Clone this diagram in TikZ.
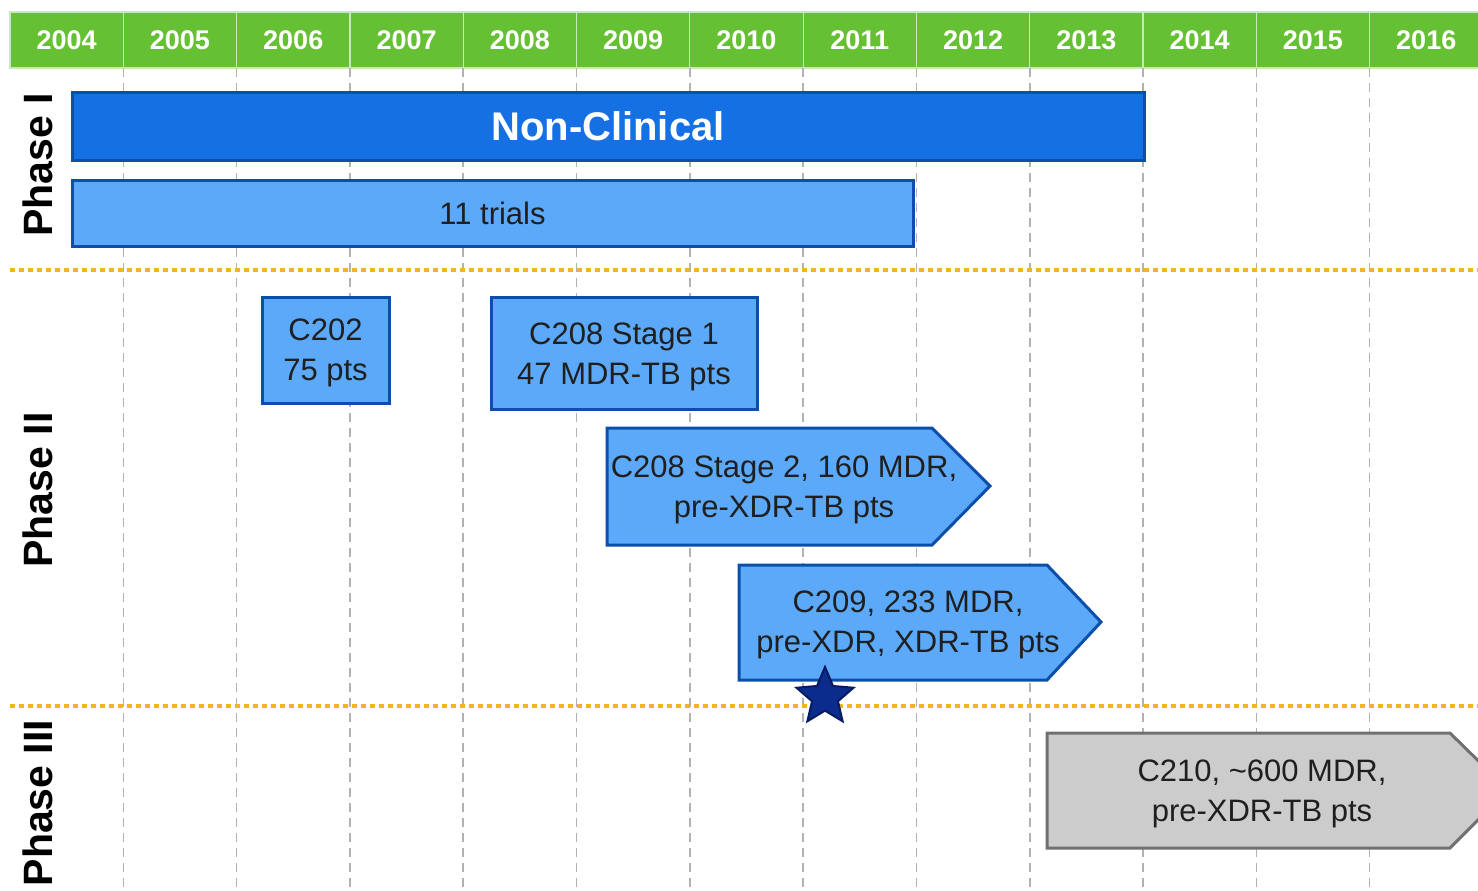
\documentclass[tikz,border=0pt]{standalone}
\usepackage{fontspec}
\setmainfont{Liberation Sans}
\usetikzlibrary{shapes.geometric}
\definecolor{hdrgreen}{HTML}{66C033}
\definecolor{darkbar}{HTML}{1570E4}
\definecolor{lightbar}{HTML}{5BA9F8}
\definecolor{barline}{HTML}{0C4FAA}
\definecolor{futuregray}{HTML}{CCCCCC}
\definecolor{futureline}{HTML}{707070}
\definecolor{phaseline}{HTML}{F4B326}
\definecolor{starblue}{HTML}{0B2C8C}
\definecolor{stardark}{HTML}{061B60}

\begin{document}
\begin{tikzpicture}[x=0.5pt,y=-0.5pt,
  hdr/.style={fill=hdrgreen,draw=white!65!hdrgreen,line width=0.6pt,inner sep=0pt,
    minimum width=56.65pt,minimum height=28pt,text=white,
    font=\fontsize{13.5}{16}\selectfont\bfseries},
  phase/.style={rotate=90,font=\fontsize{20.5}{24}\selectfont\bfseries},
  grid/.style={gray!60,line width=0.8pt,dash pattern=on 4.5pt off 3pt},
  divider/.style={phaseline,line width=2pt,dash pattern=on 2.5pt off 2pt},
  bar/.style={draw=barline,line width=1.5pt,inner sep=0pt,align=center,
    font=\fontsize{15.5}{20}\selectfont,text=black!88},
  arm/.style={fill=lightbar,draw=barline,line width=1.5pt,line join=miter},
  label/.style={align=center,font=\fontsize{15.5}{20}\selectfont,text=black!88}]
\useasboundingbox (0,0) rectangle (1478,890);

\foreach \yr [count=\i from 0] in {2004,...,2016}
  \node[hdr] (y\yr) at ({10+113.3*\i+56.65},40) {\yr};
\foreach \i in {1,...,12}
  \draw[grid] ({10+113.3*\i},68) -- ({10+113.3*\i},890);

\draw[divider] (10,270) -- (1478,270);
\draw[divider] (10,706) -- (1478,706);

\node[phase] (ph1) at (38,165) {Phase I};
\node[phase] (ph2) at (38,490) {Phase II};
\node[phase] (ph3) at (38,803) {Phase III};

\node[bar,fill=darkbar,text=white,minimum width=536pt,minimum height=34pt,
  font=\fontsize{20}{24}\selectfont\bfseries] (nonclin) at (608,126) {Non-Clinical};
\node[bar,fill=lightbar,minimum width=420.5pt,minimum height=33pt] (trials) at (492.5,213) {11 trials};

\draw[bar,fill=lightbar] (262,297) rectangle (389,403);
\node[label] (c202) at (325.5,353) {C202\\75 pts};
\draw[bar,fill=lightbar] (491,297) rectangle (757,409);
\node[label] (c208a) at (624,357) {C208 Stage 1\\47 MDR-TB pts};

\draw[arm] (607,428) -- (932,428) -- (990,486) -- (932,545) -- (607,545) -- cycle;
\node[label] (c208b) at (784,490) {C208 Stage 2, 160 MDR,\\pre-XDR-TB pts};

\draw[arm] (739,565) -- (1047,565) -- (1101,622) -- (1047,680) -- (739,680) -- cycle;
\node[label] (c209) at (908,625) {C209, 233 MDR,\\pre-XDR, XDR-TB pts};

\draw[arm,fill=futuregray,draw=futureline] (1047,733) -- (1450,733) -- (1508,790) -- (1450,848) -- (1047,848) -- cycle;
\node[label] (c210) at (1262,794) {C210, \textasciitilde600 MDR,\\pre-XDR-TB pts};

\node[star,star points=5,star point ratio=2.2,minimum size=30pt,inner sep=0pt,
  fill=starblue,draw=stardark,line width=1pt] (approval) at (825,697) {};
\end{tikzpicture}
\end{document}
